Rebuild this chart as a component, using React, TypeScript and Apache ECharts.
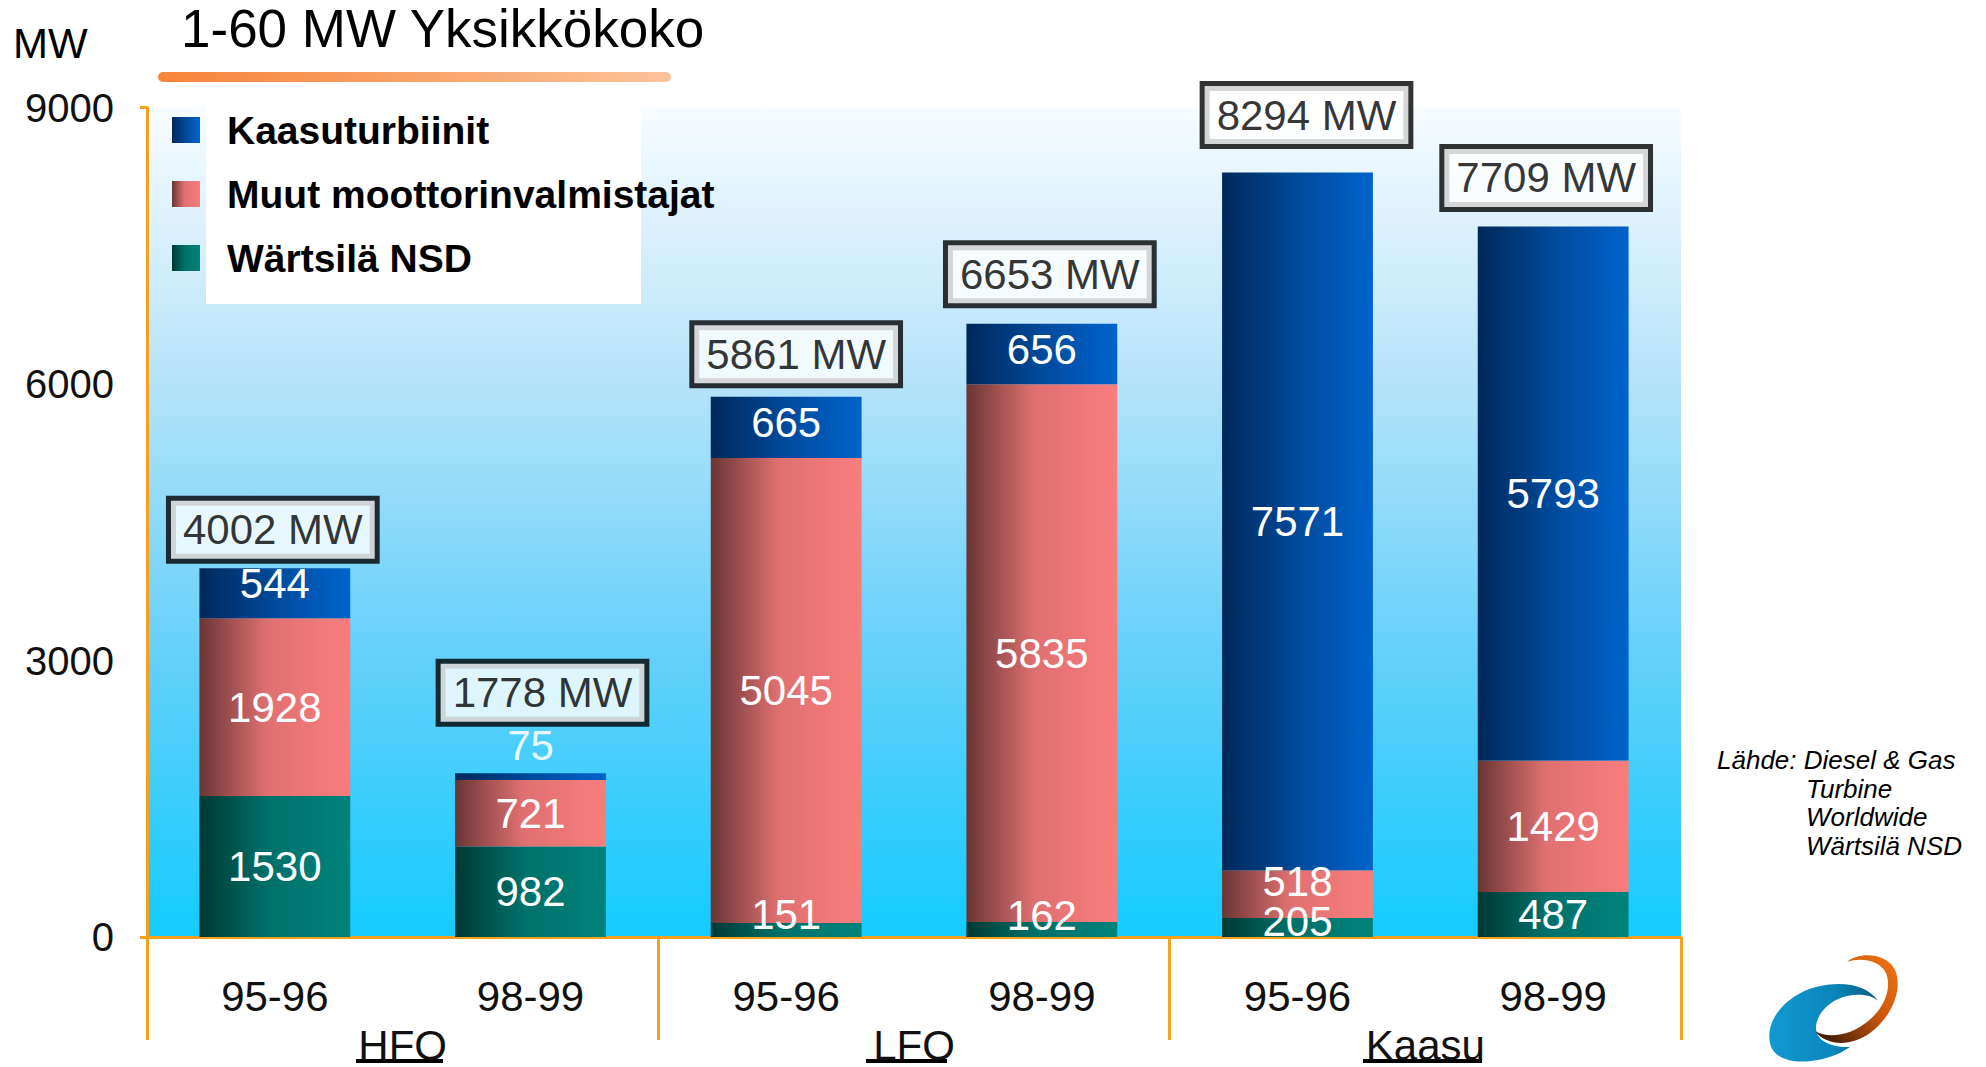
import React, { useEffect, useRef } from 'react';
import * as echarts from 'echarts';

// ---- data ----
const fuels = ['HFO', 'LFO', 'Kaasu'];
const periods = ['95-96', '98-99', '95-96', '98-99', '95-96', '98-99'];
const seriesNames = ['Wärtsilä NSD', 'Muut moottorinvalmistajat', 'Kaasuturbiinit'];
const wartsila = [1530, 982, 151, 162, 205, 487];
const muut = [1928, 721, 5045, 5835, 518, 1429];
const kaasuturbiinit = [544, 75, 665, 656, 7571, 5793];
const yTickValues = [0, 3000, 6000, 9000];
const titleText = '1-60 MW Yksikkökoko';
const unitText = 'MW';
const sourceLines = ['Lähde: Diesel & Gas', 'Turbine', 'Worldwide', 'Wärtsilä NSD'];

// ---- label nudges (layout only) ----
const wartsilaLabelDy = [0, 0, -16, -14, -6, 0];
const muutLabelDy = [0, 0, 0, 0, -13, 0];
const kaasuLabelDy = [-10, 0, -5, -5, 0, 0];
const kaasuLabelOnTop = [false, true, false, false, false, false];
const totalLabelDx = [-2, 12, 10, 8, 9, -7];
const totalLabelGap = [7, 49, 11, 18, 26, 17];

const FONT = '"Liberation Sans", Arial, Helvetica, sans-serif';
const ORANGE = '#f7a01c';

const logoBlue =
  'M 138 71 C 128 55 102 50 76 57 C 46 65 25 90 30 113 C 34 134 68 137 100 123 L 110 117 C 92 118 76 111 76 98 C 76 82 94 66 114 65 C 126 64 134 67 138 71 Z';
const logoSwoosh =
  'M 107 32 C 118 22 146 22 155 40 C 163 58 153 86 130 103 C 114 115 88 118 75 101 C 90 110 112 104 127 92 C 145 78 152 58 146 43 C 140 30 120 27 107 32 Z';

let registered = false;
function registerShapes() {
  if (registered) return;
  registered = true;
  echarts.graphic.registerShape('logoBlue', echarts.graphic.extendPath(logoBlue, {}) as any);
  echarts.graphic.registerShape('logoSwoosh', echarts.graphic.extendPath(logoSwoosh, {}) as any);
}

function hGrad(stops: [number, string][]) {
  return new echarts.graphic.LinearGradient(
    0, 0, 1, 0,
    stops.map(([offset, color]) => ({ offset, color }))
  );
}

export default function App() {
  const ref = useRef<HTMLDivElement>(null);

  useEffect(() => {
    if (!ref.current) return;
    registerShapes();
    document.body.style.margin = '0';
    const chart = echarts.init(ref.current, undefined, { renderer: 'svg' });

    const blue = hGrad([[0, '#00285a'], [0.5, '#004a9c'], [1, '#0064cc']]);
    const red = hGrad([[0, '#6a3535'], [0.45, '#e07070'], [1, '#f87d7d']]);
    const teal = hGrad([[0, '#003934'], [0.45, '#00706a'], [1, '#00837c']]);

    const totals = wartsila.map((v, i) => v + muut[i] + kaasuturbiinit[i]);
    const categories = periods.map((p, i) => fuels[Math.floor(i / 2)] + ' ' + p);

    const segLabel = {
      show: true,
      position: 'inside',
      color: '#ffffff',
      fontSize: 42,
      fontFamily: FONT,
      textBorderWidth: 0,
    };

    const mkData = (vals: number[], dys: number[], onTop?: boolean[]) =>
      vals.map((v, i) => {
        if (onTop && onTop[i]) {
          return { value: v, label: { position: 'top', distance: 7, color: '#e6f7ff' } };
        }
        return { value: v, label: { offset: [0, dys[i]] } };
      });

    const option: any = {
      animation: false,
      textStyle: { fontFamily: FONT },
      grid: {
        left: 147,
        right: 305,
        top: 107.5,
        bottom: 130,
        show: true,
        borderWidth: 0,
        backgroundColor: new echarts.graphic.LinearGradient(0, 0, 0, 1, [
          { offset: 0, color: '#f8fcff' },
          { offset: 0.33, color: '#b5e3f9' },
          { offset: 0.67, color: '#62d0fa' },
          { offset: 1, color: '#14cbff' },
        ]),
      },
      legend: {
        data: [seriesNames[2], seriesNames[1], seriesNames[0]],
        orient: 'vertical',
        left: 172,
        top: 110,
        padding: 0,
        icon: 'rect',
        itemWidth: 28,
        itemHeight: 26,
        itemGap: 24,
        selectedMode: false,
        z: 5,
        textStyle: {
          fontSize: 39,
          fontWeight: 'bold',
          color: '#000',
          fontFamily: FONT,
          lineHeight: 40,
          padding: [0, 0, 0, 22],
        },
      },
      xAxis: [
        {
          type: 'category',
          data: categories,
          position: 'bottom',
          axisLine: { show: true, lineStyle: { color: ORANGE, width: 3 } },
          axisTick: { show: false },
          axisLabel: {
            fontSize: 42,
            color: '#111',
            fontFamily: FONT,
            margin: 38,
            formatter: (_v: string, i: number) => periods[i],
          },
          splitLine: { show: false },
        },
        {
          type: 'category',
          data: fuels,
          position: 'bottom',
          axisLine: { show: false },
          axisTick: { show: true, length: 103, lineStyle: { color: ORANGE, width: 3 } },
          axisLabel: { fontSize: 42, color: '#111', fontFamily: FONT, margin: 87 },
          splitLine: { show: false },
        },
      ],
      yAxis: {
        type: 'value',
        min: 0,
        max: 9000,
        interval: 3000,
        axisLine: { show: true, lineStyle: { color: ORANGE, width: 3 } },
        axisTick: {
          show: true,
          length: 7,
          customValues: [yTickValues[0], yTickValues[yTickValues.length - 1]],
          lineStyle: { color: ORANGE, width: 3 },
        },
        axisLabel: {
          fontSize: 40,
          color: '#111',
          fontFamily: FONT,
          margin: 33,
          customValues: yTickValues,
          formatter: (v: number) => String(v),
        },
        splitLine: { show: false },
      },
      series: [
        {
          name: seriesNames[0],
          type: 'bar',
          stack: 'mw',
          barWidth: '59%',
          itemStyle: { color: teal },
          label: segLabel,
          data: mkData(wartsila, wartsilaLabelDy),
        },
        {
          name: seriesNames[1],
          type: 'bar',
          stack: 'mw',
          barWidth: '59%',
          itemStyle: { color: red },
          label: segLabel,
          data: mkData(muut, muutLabelDy),
        },
        {
          name: seriesNames[2],
          type: 'bar',
          stack: 'mw',
          barWidth: '59%',
          itemStyle: { color: blue },
          label: segLabel,
          data: mkData(kaasuturbiinit, kaasuLabelDy, kaasuLabelOnTop),
        },
        {
          name: 'Yhteensä',
          type: 'scatter',
          symbolSize: 1,
          itemStyle: { color: 'rgba(0,0,0,0)' },
          z: 6,
          label: {
            show: true,
            position: 'top',
            fontSize: 42,
            color: '#000',
            fontFamily: FONT,
            textBorderWidth: 0,
            backgroundColor: '#ffffff',
            borderColor: '#000000',
            borderWidth: 5,
            borderType: 'solid',
            lineHeight: 48,
            padding: [5, 12, 5, 12],
            formatter: (p: any) => `${totals[p.dataIndex]} MW`,
          },
          data: totals.map((t, i) => ({
            value: t,
            label: { distance: totalLabelGap[i] + 2, offset: [totalLabelDx[i], 0] },
          })),
        },
      ],
      graphic: [
        {
          type: 'rect',
          z: 1,
          shape: { x: 206, y: 101, width: 435, height: 203 },
          style: { fill: '#ffffff' },
        },
        {
          type: 'text',
          x: 181,
          y: 28,
          style: {
            text: titleText,
            fontSize: 53,
            fontFamily: FONT,
            fill: '#000',
            verticalAlign: 'middle',
          },
        },
        {
          type: 'rect',
          shape: { x: 158, y: 72, width: 513, height: 10, r: 5 },
          style: { fill: hGrad([[0, '#f7843a'], [0.5, '#f9a266'], [1, '#fcc39c']]) },
        },
        {
          type: 'text',
          x: 13,
          y: 43,
          style: { text: unitText, fontSize: 42, fontFamily: FONT, fill: '#000', verticalAlign: 'middle' },
        },
        ...sourceLines.map((line, i) => ({
          type: 'text',
          x: i === 0 ? 1717 : 1806,
          y: 760 + i * 28.5,
          style: {
            text: line,
            fontSize: 26,
            fontStyle: 'italic',
            fontFamily: FONT,
            fill: '#000',
            verticalAlign: 'middle',
          },
        })),
        { type: 'rect', shape: { x: 356, y: 1059, width: 87, height: 4 }, style: { fill: '#000' } },
        { type: 'rect', shape: { x: 866, y: 1059, width: 81, height: 4 }, style: { fill: '#000' } },
        { type: 'rect', shape: { x: 1363, y: 1059, width: 119, height: 4 }, style: { fill: '#000' } },
        {
          type: 'group',
          x: 1740,
          y: 930,
          children: [
            {
              type: 'logoBlue',
              style: {
                fill: new echarts.graphic.LinearGradient(0, 0, 1, 0, [
                  { offset: 0, color: '#1199d2' },
                  { offset: 0.6, color: '#0a86bb' },
                  { offset: 1, color: '#0c5a7e' },
                ]),
              },
            },
            {
              type: 'logoSwoosh',
              style: {
                fill: new echarts.graphic.LinearGradient(1, 0, 0, 1, [
                  { offset: 0, color: '#f27515' },
                  { offset: 0.45, color: '#cc580c' },
                  { offset: 1, color: '#2e1206' },
                ]),
              },
            },
          ],
        },
      ],
    };

    chart.setOption(option);
    return () => chart.dispose();
  }, []);

  return (
    <div
      ref={ref}
      style={{ position: 'fixed', left: 0, top: 0, width: 1986, height: 1067, background: '#ffffff' }}
    />
  );
}
